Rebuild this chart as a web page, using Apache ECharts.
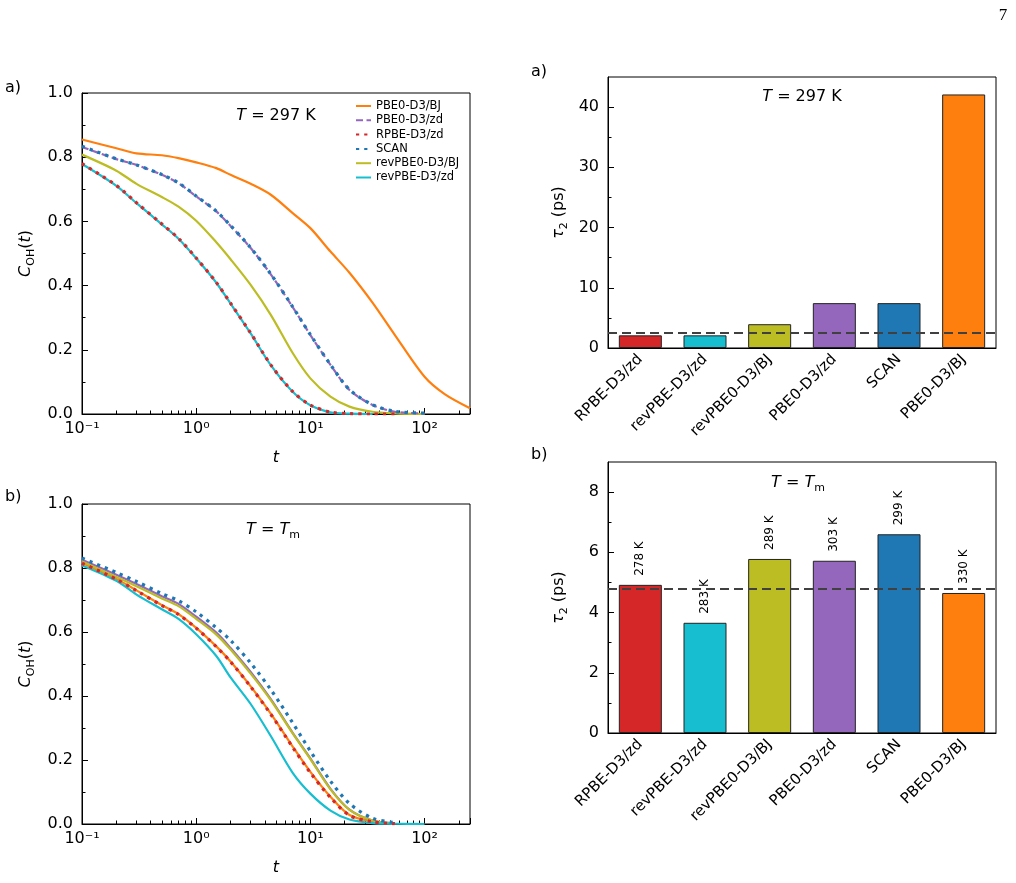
<!DOCTYPE html>
<html>
<head>
<meta charset="utf-8">
<script src="https://cdn.jsdelivr.net/npm/echarts@6/dist/echarts.min.js"></script>
<style>
  html, body { margin: 0; padding: 0; background: #fff; }
  #main { width: 1016px; height: 883px; }
</style>
</head>
<body>
<div id="main"></div>
<script>
const tGrid = [0.1, 0.2, 0.3, 0.5, 0.7, 1, 1.5, 2, 3, 4.5, 7, 10, 15, 22, 35, 55, 100, 150, 250];

// C_OH(t) at T = 297 K
const roomPBE0BJ = [0.855, 0.828, 0.812, 0.806, 0.797, 0.784, 0.766, 0.745, 0.717, 0.683, 0.626, 0.579, 0.506, 0.44, 0.347, 0.246, 0.116, 0.062, 0.018];
const roomPBE0zd = [0.832, 0.794, 0.776, 0.745, 0.719, 0.678, 0.631, 0.586, 0.517, 0.435, 0.333, 0.246, 0.153, 0.075, 0.028, 0.007, 0.002];
const roomRPBE = [0.78, 0.712, 0.658, 0.592, 0.547, 0.486, 0.41, 0.345, 0.252, 0.153, 0.07, 0.028, 0.006, 0.001, 0, 0];
const roomSCAN = [0.834, 0.795, 0.776, 0.746, 0.72, 0.679, 0.632, 0.587, 0.518, 0.436, 0.334, 0.247, 0.154, 0.076, 0.029, 0.008, 0.003];
const roomRevPBE0BJ = [0.808, 0.758, 0.717, 0.676, 0.646, 0.602, 0.535, 0.482, 0.402, 0.309, 0.19, 0.111, 0.054, 0.023, 0.007, 0.002, 0];
const roomRevPBE = [0.779, 0.711, 0.657, 0.591, 0.546, 0.485, 0.409, 0.344, 0.251, 0.152, 0.069, 0.027, 0.005, 0.001, 0];

// C_OH(t) at T = Tm
const meltPBE0BJ = [0.816, 0.766, 0.73, 0.684, 0.656, 0.613, 0.555, 0.508, 0.43, 0.345, 0.242, 0.163, 0.085, 0.028, 0.008, 0.001];
const meltPBE0zd = [0.826, 0.779, 0.75, 0.712, 0.688, 0.648, 0.598, 0.55, 0.475, 0.39, 0.285, 0.205, 0.11, 0.045, 0.011, 0.002];
const meltRPBE = [0.815, 0.765, 0.729, 0.683, 0.655, 0.612, 0.554, 0.507, 0.429, 0.343, 0.24, 0.16, 0.083, 0.027, 0.007, 0.001];
const meltSCAN = [0.831, 0.786, 0.758, 0.72, 0.698, 0.663, 0.613, 0.574, 0.503, 0.42, 0.316, 0.228, 0.134, 0.064, 0.018, 0.004];
const meltRevPBE0BJ = [0.82, 0.772, 0.743, 0.705, 0.681, 0.641, 0.592, 0.545, 0.47, 0.387, 0.283, 0.203, 0.108, 0.044, 0.011, 0.002];
const meltRevPBE = [0.808, 0.76, 0.717, 0.671, 0.641, 0.593, 0.525, 0.458, 0.375, 0.275, 0.16, 0.095, 0.042, 0.014, 0.003, 0.001, 0];

// tau_2 bars
const methods = ['RPBE-D3/zd', 'revPBE-D3/zd', 'revPBE0-D3/BJ', 'PBE0-D3/zd', 'SCAN', 'PBE0-D3/BJ'];
const tau297 = [2.1, 2.1, 3.95, 7.45, 7.45, 42.1];
const tauMelt = [4.92, 3.66, 5.78, 5.72, 6.6, 4.65];
const meltTemps = [278, 283, 289, 303, 299, 330];
const tauRef297 = 2.5;
const tauRefMelt = 4.8;

// tick values
const tau297Ticks = [0, 10, 20, 30, 40];
const tau297Minor = [5, 15, 25, 35];
const tauMeltTicks = [0, 2, 4, 6, 8];
const tauMeltMinor = [1, 3, 5, 7];

const font = 'DejaVu Sans';
const C = {
  blue: '#1f77b4', orange: '#ff7f0e', olive: '#bcbd22',
  purple: '#9467bd', red: '#d62728', cyan: '#17becf'
};
const barColors = [C.red, C.cyan, C.olive, C.purple, C.blue, C.orange];

const rich = {
  n: { fontFamily: font, fontSize: 16, color: '#000', lineHeight: 22, verticalAlign: 'middle' },
  i: { fontFamily: font, fontSize: 16, fontStyle: 'italic', color: '#000', lineHeight: 22, verticalAlign: 'middle' },
  s: { fontFamily: font, fontSize: 11, color: '#000', lineHeight: 22, verticalAlign: 'bottom' }
};

const supMap = { '-': '⁻', '0': '⁰', '1': '¹', '2': '²', '3': '³', '4': '⁴', '5': '⁵', '6': '⁶', '7': '⁷', '8': '⁸', '9': '⁹' };
function logLabel(v) {
  const e = Math.log10(v);
  const r = Math.round(e);
  if (Math.abs(e - r) > 1e-6) return '';
  return '10' + String(r).split('').map(c => supMap[c]).join('');
}

// minor tick positions of a log axis, in log10 units
const minorLog = [];
for (let d = -1; d <= 2; d++) {
  for (let k = 2; k <= 9; k++) {
    const v = k * Math.pow(10, d);
    if (v < 250) minorLog.push(Math.log10(v));
  }
}

function zip(xs, ys) {
  return ys.map((y, i) => [xs[i], y]);
}

const grids = [
  { left: 82, top: 93, width: 388, height: 321 },
  { left: 82, top: 504, width: 388, height: 320 },
  { left: 608, top: 77, width: 388, height: 271 },
  { left: 608, top: 462, width: 388, height: 271 }
].map(g => Object.assign({ show: true, borderColor: '#000', borderWidth: 1, backgroundColor: 'transparent' }, g));

const black = { color: '#000', width: 1 };

function logAxis(gi) {
  return {
    gridIndex: gi, type: 'log', logBase: 10, min: 0.1, max: 250, position: 'bottom',
    axisLine: { show: true, onZero: false, lineStyle: black },
    axisTick: { show: true, inside: true, length: 6, lineStyle: black },
    splitLine: { show: false },
    axisLabel: { color: '#000', fontFamily: font, fontSize: 16, margin: 7, formatter: logLabel },
    name: 't', nameLocation: 'middle', nameGap: 36,
    nameTextStyle: { fontFamily: font, fontSize: 16, fontStyle: 'italic', color: '#000' }
  };
}
function minorLogAxis(gi) {
  return {
    gridIndex: gi, type: 'value', min: -1, max: Math.log10(250), position: 'bottom',
    axisLine: { show: false }, axisLabel: { show: false }, splitLine: { show: false },
    axisTick: { show: true, inside: true, length: 3.5, customValues: minorLog, lineStyle: black }
  };
}
function corrAxis(gi) {
  return {
    gridIndex: gi, type: 'value', min: 0, max: 1, interval: 0.2, position: 'left',
    axisLine: { show: true, onZero: false, lineStyle: black },
    axisTick: { show: true, inside: true, length: 6, lineStyle: black },
    minorTick: { show: true, splitNumber: 2, length: 3.5, lineStyle: black },
    splitLine: { show: false },
    axisLabel: { color: '#000', fontFamily: font, fontSize: 16, margin: 9, formatter: v => v.toFixed(1) },
    name: '{i|C}{s|OH}{n|(}{i|t}{n|)}', nameLocation: 'middle', nameGap: 45, nameRotate: 90,
    nameTextStyle: { rich: rich }
  };
}
function tauAxis(gi, max, ticks) {
  return {
    gridIndex: gi, type: 'value', min: 0, max: max, interval: ticks[1] - ticks[0], position: 'left',
    axisLine: { show: true, onZero: false, lineStyle: black },
    axisTick: { show: true, inside: true, length: 6, customValues: ticks, lineStyle: black },
    splitLine: { show: false },
    axisLabel: { color: '#000', fontFamily: font, fontSize: 16, margin: 9, customValues: ticks,
      formatter: v => (ticks.indexOf(v) >= 0 ? String(v) : '') },
    name: '{i|τ}{s|2}{n| (ps)}', nameLocation: 'middle', nameGap: 38, nameRotate: 90,
    nameTextStyle: { rich: rich }
  };
}
function tauMinorAxis(gi, max, minor) {
  return {
    gridIndex: gi, type: 'value', min: 0, max: max, position: 'left',
    axisLine: { show: false }, axisLabel: { show: false }, splitLine: { show: false },
    axisTick: { show: true, inside: true, length: 3.5, customValues: minor, lineStyle: black }
  };
}
function catAxis(gi) {
  return {
    gridIndex: gi, type: 'category', data: methods, position: 'bottom',
    axisLine: { show: true, onZero: false, lineStyle: black },
    axisTick: { show: false },
    splitLine: { show: false },
    axisLabel: { color: '#000', fontFamily: font, fontSize: 15, rotate: 45, interval: 0, margin: 9 }
  };
}

function curve(name, color, ys, xi, yi, look) {
  const lineStyle = { color: color, width: 2.2, type: 'solid', cap: 'butt' };
  let z = 2;
  if (look === 'dash') { lineStyle.type = [7, 3.5]; z = 3; }
  if (look === 'dot') { lineStyle.type = [3.2, 5]; lineStyle.width = 3.2; z = 4; }
  return {
    name: name, type: 'line', xAxisIndex: xi, yAxisIndex: yi,
    data: zip(tGrid, ys), showSymbol: false, symbol: 'none',
    smooth: 0.3, color: color,
    lineStyle: lineStyle, z: z, silent: true
  };
}

function bars(values, xi, yi, ref, withTemps) {
  return {
    type: 'bar', xAxisIndex: xi, yAxisIndex: yi, data: values, barWidth: 43,
    itemStyle: { color: p => barColors[p.dataIndex], borderColor: '#222', borderWidth: 1 },
    label: withTemps ? {
      show: true, position: 'top', distance: 9, rotate: 90, align: 'left', verticalAlign: 'middle',
      fontFamily: font, fontSize: 12, color: '#000',
      formatter: p => meltTemps[p.dataIndex] + ' K'
    } : { show: false },
    markLine: {
      silent: true, symbol: 'none', label: { show: false },
      lineStyle: { type: [9, 5], color: '#404040', width: 1.8 },
      data: [{ yAxis: ref }]
    }
  };
}

function txt(x, y, text, opts) {
  return {
    type: 'text', x: x, y: y, z: 100,
    style: Object.assign({
      text: text, fill: '#000', fontFamily: font, fontSize: 16,
      align: 'center', verticalAlign: 'middle', rich: rich
    }, opts || {})
  };
}

const option = {
  animation: false,
  backgroundColor: '#fff',
  grid: grids,
  xAxis: [logAxis(0), minorLogAxis(0), logAxis(1), minorLogAxis(1), catAxis(2), catAxis(3)],
  yAxis: [
    corrAxis(0), corrAxis(1),
    tauAxis(2, 45, tau297Ticks), tauMinorAxis(2, 45, tau297Minor),
    tauAxis(3, 9, tauMeltTicks), tauMinorAxis(3, 9, tauMeltMinor)
  ],
  legend: {
    orient: 'vertical', left: 355, top: 100, padding: 0,
    itemWidth: 15, itemHeight: 11, itemGap: 2.3,
    itemStyle: { opacity: 0 },
    textStyle: { fontFamily: font, fontSize: 11.5, color: '#000', lineHeight: 11 },
    data: ['PBE0-D3/BJ', 'PBE0-D3/zd', 'RPBE-D3/zd', 'SCAN', 'revPBE0-D3/BJ', 'revPBE-D3/zd'],
    selectedMode: false
  },
  series: [
    curve('PBE0-D3/BJ', C.orange, roomPBE0BJ, 0, 0, 'solid'),
    curve('PBE0-D3/zd', C.purple, roomPBE0zd, 0, 0, 'dash'),
    curve('RPBE-D3/zd', C.red, roomRPBE, 0, 0, 'dot'),
    curve('SCAN', C.blue, roomSCAN, 0, 0, 'dot'),
    curve('revPBE0-D3/BJ', C.olive, roomRevPBE0BJ, 0, 0, 'solid'),
    curve('revPBE-D3/zd', C.cyan, roomRevPBE, 0, 0, 'solid'),

    curve('PBE0-D3/BJ', C.orange, meltPBE0BJ, 2, 1, 'solid'),
    curve('PBE0-D3/zd', C.purple, meltPBE0zd, 2, 1, 'solid'),
    curve('RPBE-D3/zd', C.red, meltRPBE, 2, 1, 'dot'),
    curve('SCAN', C.blue, meltSCAN, 2, 1, 'dot'),
    curve('revPBE0-D3/BJ', C.olive, meltRevPBE0BJ, 2, 1, 'solid'),
    curve('revPBE-D3/zd', C.cyan, meltRevPBE, 2, 1, 'solid'),

    bars(tau297, 4, 2, tauRef297, false),
    bars(tauMelt, 5, 4, tauRefMelt, true)
  ],
  graphic: [
    txt(276, 116, '{i|T}{n| = 297 K}'),
    txt(273, 530, '{i|T}{n| = }{i|T}{s|m}'),
    txt(802, 97, '{i|T}{n| = 297 K}'),
    txt(798, 483, '{i|T}{n| = }{i|T}{s|m}'),
    txt(5, 88, 'a)', { align: 'left', rich: null }),
    txt(5, 497, 'b)', { align: 'left', rich: null }),
    txt(531, 72, 'a)', { align: 'left', rich: null }),
    txt(531, 455, 'b)', { align: 'left', rich: null }),
    txt(1003, 16, '7', { fontFamily: 'Liberation Serif', fontSize: 17, rich: null })
  ]
};

const chart = echarts.init(document.getElementById('main'), null, { renderer: 'canvas' });
chart.setOption(option);
</script>
</body>
</html>
